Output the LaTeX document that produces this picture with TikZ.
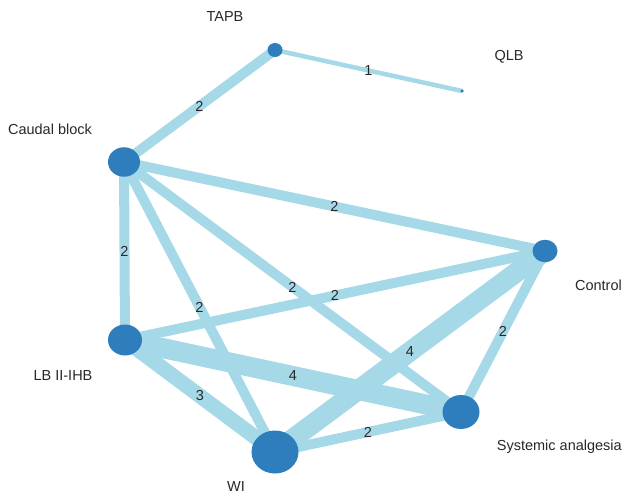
\documentclass[tikz,border=0pt]{standalone}
\usepackage{fontspec}
\setmainfont{Liberation Sans}
\usetikzlibrary{shapes.geometric}
\definecolor{edgecol}{RGB}{166,217,232}
\definecolor{nodecol}{RGB}{46,126,190}
\definecolor{txtcol}{RGB}{40,40,40}
\begin{document}
\begin{tikzpicture}[x=1bp,y=-1bp,
  treat/.style={ellipse,fill=nodecol,inner sep=0pt,outer sep=0pt},
  link/.style={draw=edgecol,line width=#1*5bp},
  num/.style={text=txtcol,font=\fontsize{14.5bp}{16bp}\selectfont,inner sep=0pt},
  lab/.style={text=txtcol,font=\fontsize{14.5bp}{16bp}\selectfont,inner sep=0pt}]
\useasboundingbox (0,0) rectangle (623,497);
\fill[white] (0,0) rectangle (623,497);
% positions
\coordinate (tapb) at (275,50);
\coordinate (qlb) at (462,91);
\coordinate (cb) at (124,162);
\coordinate (ctl) at (545,251);
\coordinate (lb) at (125,340);
\coordinate (sys) at (461,412);
\coordinate (wi) at (275,452);
% edges
\draw[link=0.9] (tapb) -- node[num,pos=0.5]{1} (qlb);
\draw[link=2] (cb) -- node[num]{2} (tapb);
\draw[link=2] (cb) -- node[num]{2} (ctl);
\draw[link=2] (cb) -- node[num]{2} (lb);
\draw[link=2] (cb) -- node[num]{2} (wi);
\draw[link=2] (cb) -- node[num]{2} (sys);
\draw[link=2] (lb) -- node[num]{2} (ctl);
\draw[link=4] (lb) -- node[num]{4} (sys);
\draw[link=3] (lb) -- node[num]{3} (wi);
\draw[link=4] (wi) -- node[num]{4} (ctl);
\draw[link=2] (wi) -- node[num]{2} (sys);
\draw[link=2] (sys) -- node[num]{2} (ctl);
% nodes
\node[treat,minimum width=15bp,minimum height=14bp] (tapbn) at (tapb) {};
\node[treat,minimum width=3.5bp,minimum height=3.5bp] (qlbn) at (qlb) {};
\node[treat,minimum width=32bp,minimum height=29.5bp] (cbn) at (cb) {};
\node[treat,minimum width=25bp,minimum height=22.5bp] (ctln) at (ctl) {};
\node[treat,minimum width=34bp,minimum height=31bp] (lbn) at (lb) {};
\node[treat,minimum width=37bp,minimum height=34bp] (sysn) at (sys) {};
\node[treat,minimum width=47bp,minimum height=43bp] (win) at (wi) {};
% labels
\node[lab] (tapbl) at (225,17) {TAPB};
\node[lab] (qlbl) at (509,57) {QLB};
\node[lab] (cbl) at (50,129) {Caudal block};
\node[lab,anchor=east] (ctll) at (622,285) {Control};
\node[lab] (lbl) at (63,376) {LB II-IHB};
\node[lab,anchor=east] (sysl) at (622,447) {Systemic analgesia};
\node[lab] (wil) at (236,487) {WI};
\end{tikzpicture}
\end{document}
